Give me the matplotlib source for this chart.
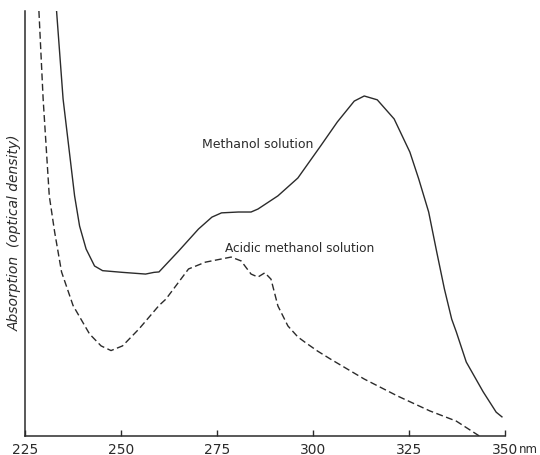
import matplotlib
matplotlib.use("Agg")
from matplotlib import pyplot as plt

# wavelength (nm) and absorption (arbitrary units)
meoh_wl = [233.1, 234.8, 237.8, 239.1, 240.8, 243.0, 245.1, 250.3, 256.3, 258.5,
           259.8, 264.9, 270.1, 273.6, 276.1, 280.5, 283.8, 285.6, 290.8, 296.0,
           301.9, 306.3, 310.7, 313.3, 316.7, 321.1, 325.2, 327.5, 330.1, 332.2,
           334.2, 336.1, 337.3, 339.9, 344.3, 347.7, 349.2]
meoh_abs = [1.000, 0.793, 0.565, 0.494, 0.440, 0.400, 0.389, 0.385, 0.381, 0.385,
            0.386, 0.435, 0.487, 0.515, 0.525, 0.527, 0.527, 0.534, 0.565, 0.607,
            0.682, 0.739, 0.788, 0.800, 0.791, 0.746, 0.668, 0.605, 0.527, 0.433,
            0.346, 0.275, 0.245, 0.174, 0.104, 0.056, 0.045]

acid_wl = [228.5, 229.6, 231.2, 232.6, 234.4, 237.4, 241.7, 244.7, 247.3, 250.3,
           254.6, 259.8, 261.6, 267.5, 271.9, 278.6, 281.2, 283.8, 285.6, 287.4,
           289.0, 290.8, 293.4, 296.0, 297.8, 301.1, 304.5, 313.3, 322.0, 330.4,
           337.3, 343.3]
acid_abs = [1.000, 0.793, 0.565, 0.480, 0.386, 0.307, 0.240, 0.212, 0.201, 0.212,
            0.252, 0.307, 0.322, 0.393, 0.409, 0.421, 0.412, 0.381, 0.374, 0.384,
            0.369, 0.306, 0.259, 0.233, 0.221, 0.200, 0.181, 0.134, 0.094, 0.059,
            0.035, 0.000]

xticks = [225, 250, 275, 300, 325, 350]
xticklabels = ['225', '250', '275', '300', '325', '350']

ink = '#2b2b2b'

fig = plt.figure(figsize=(5.4, 4.56), dpi=100)
ax = fig.add_axes([0.0472, 0.0417, 0.888, 0.932])

ax.plot(meoh_wl, meoh_abs, color=ink, lw=1.0)
ax.plot(acid_wl, acid_abs, color=ink, lw=1.0, dashes=(5, 2.5))

ax.set_xlim(225, 350)
ax.set_ylim(0, 1.0)
ax.set_xticks(xticks)
ax.set_xticklabels(xticklabels, fontsize=10, color=ink)
ax.set_yticks([])
ax.tick_params(axis='x', direction='in', length=4.5, width=1, color=ink, pad=4)

for side in ['top', 'right']:
    ax.spines[side].set_visible(False)
for side in ['left', 'bottom']:
    ax.spines[side].set_color(ink)
    ax.spines[side].set_linewidth(1.1)

# unit written after the last tick label
ax.annotate('nm', xy=(350, 0), xycoords=('data', 'axes fraction'),
            xytext=(9.9, -4.6), textcoords='offset points',
            fontsize=8.5, color=ink, ha='left', va='top', annotation_clip=False)

ax.set_ylabel('Absorption  (optical density)', fontsize=10, style='italic',
              color=ink)
ax.yaxis.set_label_coords(-0.008, 0.48)

ax.text(285.4, 0.68, 'Methanol solution', fontsize=9, color=ink, ha='center')
ax.text(296.4, 0.435, 'Acidic methanol solution', fontsize=8.7, color=ink, ha='center')

fig.savefig('out.png', dpi=100, facecolor='white')
